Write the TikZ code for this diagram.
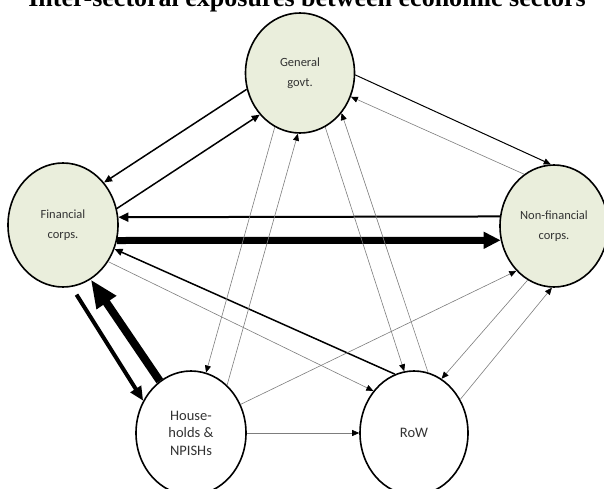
\documentclass[tikz,border=0pt]{standalone}
\usepackage{fontspec}
\setmainfont{Liberation Serif}
\newfontfamily\labelfont{Carlito}
\usetikzlibrary{shapes.geometric,arrows.meta}
\definecolor{sectorfill}{RGB}{234,238,220}
\definecolor{flowgray}{RGB}{125,125,125}
\definecolor{labelgray}{RGB}{50,50,50}

\begin{document}
\begin{tikzpicture}[x=1pt,y=-1pt,
    sector/.style={draw,ellipse,line width=1.6pt,inner sep=0pt,minimum width=109pt,minimum height=122pt,
        fill=sectorfill,align=center,text=labelgray,font=\labelfont\fontsize{12.5}{20}\selectfont},
    plainsector/.style={sector,fill=white,font=\labelfont\fontsize{14.5}{17.5}\selectfont},
    thinflow/.style={draw=flowgray,line width=0.6pt,-{Triangle[length=7pt,width=6pt,color=black]}},
    medflow/.style={draw=black,line width=1.5pt,-{Triangle[length=8pt,width=7pt]}}]
    \useasboundingbox (0,0) rectangle (604,489);
    \node (title) at (307,7) [anchor=base,font=\bfseries\fontsize{26}{26}\selectfont] {Inter-sectoral exposures between economic sectors};
    \node (gg) at (300,73) [sector,minimum height=120pt] {General\\govt.};
    \node (fc) at (63,225) [sector,minimum width=110pt,minimum height=124pt] {Financial\\corps.};
    \node (nf) at (554,226) [sector,minimum width=108pt] {Non-financial\\corps.};
    \node (hh) at (191,433) [plainsector,minimum width=110pt,minimum height=124pt] {House-\\holds \&\\NPISHs};
    \node (row) at (414,433) [plainsector,minimum width=108pt,minimum height=124pt] {RoW};
    \draw[medflow] (gg.197) -- (fc.46);
    \draw[medflow] (fc.17) -- (gg.226);
    \draw[line width=2pt,-{Triangle[length=10pt,width=9pt]}] (nf.170) -- (fc.8);
    \draw[line width=7pt,-{Triangle[length=17pt,width=16pt]}] (fc.344) -- (nf.195);
    \draw[medflow] (row.108) -- (fc.335);
    \draw[thinflow] (fc.321) -- (row.134);
    \draw[line width=4pt,-{Triangle[length=14pt,width=12pt]},shorten <=9pt] (fc.278) -- (hh.146);
    \draw[line width=8pt,-{Triangle[length=28pt,width=22pt]}] (hh.121) -- (fc.297);
    \draw[thinflow] (gg.245) -- (hh.76);
    \draw[thinflow] (hh.53) -- (gg.268);
    \draw[thinflow] (gg.295) -- (row.99);
    \draw[thinflow] (row.77) -- (gg.316);
    \draw[line width=1pt,-{Triangle[length=7pt,width=6pt]}] (gg.358) -- (nf.93);
    \draw[thinflow] (nf.120) -- (gg.335);
    \draw[thinflow] (hh.30) -- (nf.230);
    \draw[thinflow] (nf.244) -- (row.63);
    \draw[thinflow] (row.36) -- (nf.268);
    \draw[thinflow] (hh.east) -- (row.west);
\end{tikzpicture}
\end{document}
